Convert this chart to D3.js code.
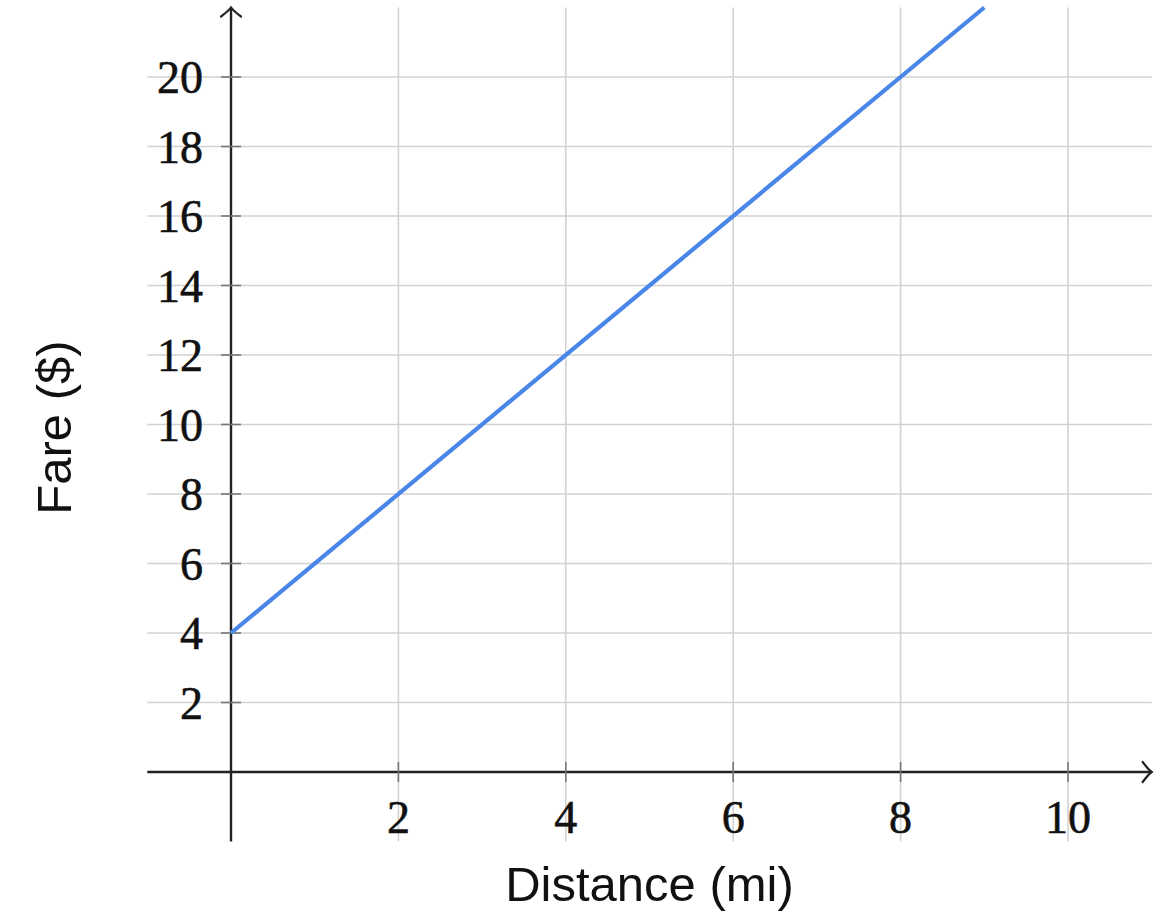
<!DOCTYPE html>
<html>
<head>
<meta charset="utf-8">
<script src="https://cdn.jsdelivr.net/npm/d3@7"></script>
<style>
  html, body { margin: 0; padding: 0; background: #fff; }
  svg { display: block; }
</style>
</head>
<body>
<svg id="chart" width="1168" height="912"></svg>
<script>
// Data
const distance = [0, 9];          // miles
const fare = [4, 22];             // dollars
const xTicks = [2, 4, 6, 8, 10];
const yTicks = [2, 4, 6, 8, 10, 12, 14, 16, 18, 20];
const xLabel = "Distance (mi)";
const yLabel = "Fare ($)";

const svg = d3.select("#chart");
const x = d3.scaleLinear().domain([-1, 11]).range([147.3, 1151.7]);
const y = d3.scaleLinear().domain([-2, 22]).range([841.5, 7.5]);

const gridColor = "#d2d2d2";
const axisColor = "#222";

// Grid
const grid = svg.append("g");
grid.selectAll("line.v").data(xTicks).join("line")
  .attr("x1", d => x(d)).attr("x2", d => x(d))
  .attr("y1", y(22)).attr("y2", y(-2))
  .attr("stroke", gridColor).attr("stroke-width", 1.6);
grid.selectAll("line.h").data(yTicks).join("line")
  .attr("y1", d => y(d)).attr("y2", d => y(d))
  .attr("x1", x(-1)).attr("x2", x(11))
  .attr("stroke", gridColor).attr("stroke-width", 1.6);

// Axes lines
svg.append("line")
  .attr("x1", x(-1)).attr("x2", x(11))
  .attr("y1", y(0)).attr("y2", y(0))
  .attr("stroke", axisColor).attr("stroke-width", 2.4);
svg.append("line")
  .attr("x1", x(0)).attr("x2", x(0))
  .attr("y1", y(-2)).attr("y2", y(22))
  .attr("stroke", axisColor).attr("stroke-width", 2.4);

// Arrowheads
const ax = x(11), ay = y(0);
svg.append("path")
  .attr("d", `M${ax - 9},${ay - 10} Q${ax - 3},${ay - 2} ${ax},${ay} Q${ax - 3},${ay + 2} ${ax - 9},${ay + 10}`)
  .attr("fill", "none").attr("stroke", axisColor).attr("stroke-width", 2.2).attr("stroke-linecap", "round");
const tx = x(0), ty = y(22);
svg.append("path")
  .attr("d", `M${tx - 10},${ty + 9} Q${tx - 2},${ty + 3} ${tx},${ty} Q${tx + 2},${ty + 3} ${tx + 10},${ty + 9}`)
  .attr("fill", "none").attr("stroke", axisColor).attr("stroke-width", 2.2).attr("stroke-linecap", "round");

// Tick marks
svg.append("g").selectAll("line").data(xTicks).join("line")
  .attr("x1", d => x(d)).attr("x2", d => x(d))
  .attr("y1", y(0) - 10).attr("y2", y(0) + 10)
  .attr("stroke", "#777").attr("stroke-width", 1.6);
svg.append("g").selectAll("line").data(yTicks).join("line")
  .attr("y1", d => y(d)).attr("y2", d => y(d))
  .attr("x1", x(0) - 10).attr("x2", x(0) + 10)
  .attr("stroke", "#777").attr("stroke-width", 1.6);

// Tick labels
const tickFont = "'Liberation Serif', 'DejaVu Serif', serif";
svg.append("g").selectAll("text").data(xTicks).join("text")
  .attr("x", d => x(d)).attr("y", 833)
  .attr("text-anchor", "middle")
  .attr("font-family", tickFont).attr("font-size", 46).attr("fill", "#111")
  .attr("stroke", "#111").attr("stroke-width", 0.6)
  .text(d => d);
svg.append("g").selectAll("text").data(yTicks).join("text")
  .attr("x", 203).attr("y", d => y(d) + 16)
  .attr("text-anchor", "end")
  .attr("font-family", tickFont).attr("font-size", 46).attr("fill", "#111")
  .attr("stroke", "#111").attr("stroke-width", 0.6)
  .text(d => d);

// Data line
const line = d3.line().x((d, i) => x(distance[i])).y(d => y(d));
svg.append("path")
  .datum(fare)
  .attr("d", line)
  .attr("fill", "none")
  .attr("stroke", "#4a86e8")
  .attr("stroke-width", 4.2);

// Axis labels
const labelFont = "'Liberation Sans', 'DejaVu Sans', Arial, sans-serif";
svg.append("text")
  .attr("x", (x(-1) + x(11)) / 2).attr("y", 901)
  .attr("text-anchor", "middle")
  .attr("font-family", labelFont).attr("font-size", 49).attr("fill", "#111")
  .text(xLabel);
svg.append("text")
  .attr("transform", `translate(71,${(y(-2) + y(22)) / 2 + 3}) rotate(-90)`)
  .attr("text-anchor", "middle")
  .attr("font-family", labelFont).attr("font-size", 49).attr("fill", "#111")
  .text(yLabel);
</script>
</body>
</html>
